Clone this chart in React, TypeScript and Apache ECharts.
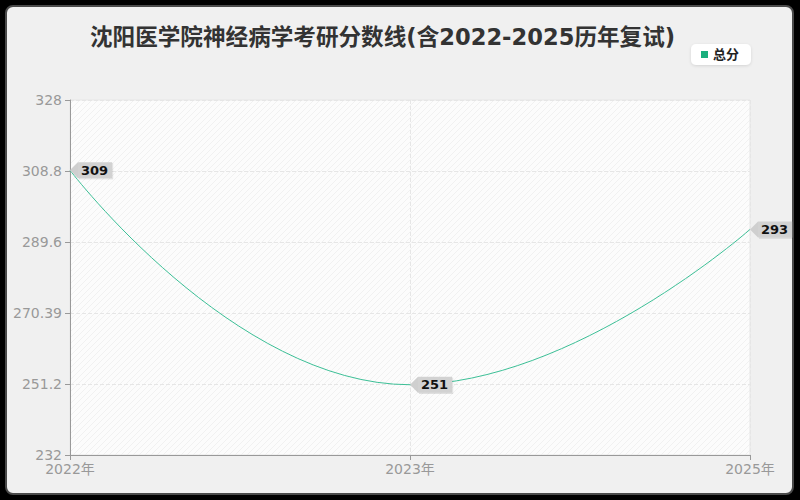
import React, { useEffect, useRef } from "react";
import * as echarts from "echarts";

const titleText = "沈阳医学院神经病学考研分数线(含2022-2025历年复试)";
const legendName = "总分";
const categories = ["2022年", "2023年", "2025年"];
const totalScores = [309, 251, 293];
const yMin = 232;
const yMax = 328;
const yInterval = 19.2;
const yTickLabels = ["232", "251.2", "270.39", "289.6", "308.8", "328"];

function makeStripe(): string {
  const c = document.createElement("canvas");
  c.width = 6;
  c.height = 6;
  const ctx = c.getContext("2d");
  if (ctx) {
    ctx.fillStyle = "#fcfcfc";
    ctx.fillRect(0, 0, 6, 6);
    ctx.strokeStyle = "#f1f1f1";
    ctx.lineWidth = 1;
    ctx.beginPath();
    ctx.moveTo(-1, 7);
    ctx.lineTo(7, -1);
    ctx.stroke();
  }
  return c.toDataURL();
}

export default function App() {
  const ref = useRef<HTMLDivElement>(null);
  useEffect(() => {
    document.body.style.margin = "0";
    document.body.style.background = "#000";
    if (!ref.current) return;
    const chart = echarts.init(ref.current, null, { renderer: "svg" });
    const font = "'DejaVu Sans', 'Noto Sans CJK SC', sans-serif";
    chart.setOption({
      animation: false,
      textStyle: { fontFamily: font },
      title: {
        text: titleText,
        left: 85,
        top: 21,
        textStyle: { fontSize: 22.6, fontWeight: "bold", color: "#333", fontFamily: font },
      },
      legend: {
        data: [{ name: legendName, itemStyle: { color: "#1aaf7d" } }],
        right: 49,
        top: 44,
        icon: "rect",
        itemWidth: 7,
        itemHeight: 7,
        itemGap: 6,
        padding: [4, 12, 4, 10],
        backgroundColor: "#ffffff",
        borderRadius: 5,
        shadowColor: "rgba(0,0,0,0.12)",
        shadowBlur: 3,
        shadowOffsetY: 1,
        textStyle: { fontSize: 13, color: "#222", fontWeight: "bold", fontFamily: font },
      },
      grid: {
        left: 70,
        right: 50,
        top: 100,
        bottom: 45,
        show: true,
        borderColor: "#e6e6e6",
        borderWidth: 1,
        backgroundColor: { image: makeStripe(), repeat: "repeat" },
      },
      xAxis: {
        type: "category",
        data: categories,
        boundaryGap: false,
        axisLine: { lineStyle: { color: "#999" } },
        axisTick: { show: true, length: 5, lineStyle: { color: "#999" } },
        axisLabel: { color: "#999", fontSize: 14, lineHeight: 13, margin: 7 },
        splitLine: { show: true, lineStyle: { type: "dashed", color: "#e6e6e6" } },
      },
      yAxis: {
        type: "value",
        min: yMin,
        max: yMax,
        interval: yInterval,
        axisLine: { show: true, lineStyle: { color: "#999" } },
        axisTick: { show: true, length: 5, lineStyle: { color: "#999" } },
        axisLabel: {
          color: "#999",
          fontSize: 14,
          lineHeight: 12,
          margin: 8,
          formatter: (_v: number, i: number) => yTickLabels[i] ?? String(_v),
        },
        splitLine: { show: true, lineStyle: { type: "dashed", color: "#e6e6e6" } },
      },
      series: [
        {
          name: legendName,
          type: "line",
          data: totalScores,
          smooth: true,
          lineStyle: { color: "#3cbf96", width: 1 },
          itemStyle: { color: "#cfcfcf" },
          symbol: "path://M0,5 L8,0 L8,10 Z",
          symbolSize: [8, 16],
          symbolOffset: [4, 0],
          label: {
            show: true,
            position: "right",
            distance: 0,
            backgroundColor: "#d2d2d2",
            color: "#111",
            fontSize: 13,
            fontWeight: "bold",
            padding: [1, 4, 0, 3],
            lineHeight: 15,
            shadowColor: "rgba(0,0,0,0.15)",
            shadowOffsetX: 1,
            shadowOffsetY: 1,
            fontFamily: font,
          },
        },
      ],
    });
    return () => chart.dispose();
  }, []);
  return (
    <div style={{ position: "relative", width: 800, height: 500, background: "#000" }}>
      <div
        style={{
          position: "absolute",
          left: 5,
          top: 5,
          width: 789,
          height: 490,
          boxSizing: "border-box",
          background: "#f0f0f0",
          border: "2px solid #4a4a4a",
          borderRadius: 8,
        }}
      />
      <div ref={ref} style={{ position: "absolute", left: 0, top: 0, width: 800, height: 500 }} />
    </div>
  );
}
